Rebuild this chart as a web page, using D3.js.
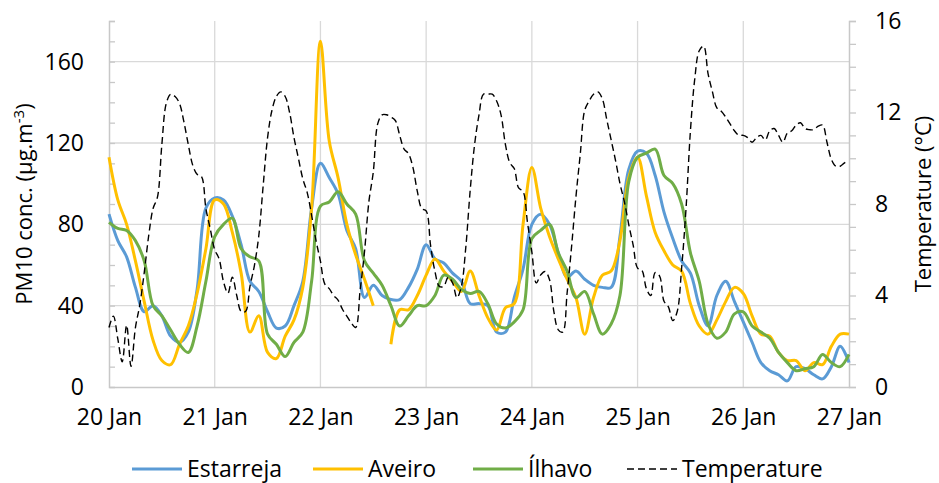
<!DOCTYPE html>
<html>
<head>
<meta charset="utf-8">
<script src="https://cdn.jsdelivr.net/npm/d3@7"></script>
<style>
  body { margin: 0; background: #fff; }
  svg text { font-family: "Open Sans", sans-serif; fill: #000; }
</style>
</head>
<body>
<div id="chart"></div>
<script>
// hours since 20 Jan 00:00
const pmHours = d3.range(0, 169, 2);
const tempHours = d3.range(0, 169, 1);
const dayLabels = ["20 Jan", "21 Jan", "22 Jan", "23 Jan", "24 Jan", "25 Jan", "26 Jan", "27 Jan"];
const pmTicks = [0, 40, 80, 120, 160];
const tempTicks = [0, 4, 8, 12, 16];

// PM10 (µg/m3), every 2 h
const estarreja = [
  85, 72, 64, 49, 37, 40, 35, 25, 22, 27, 48, 88, 93,
  92, 84, 70, 52, 47, 37, 29, 30, 40, 52, 88, 110,
  103, 95, 77, 68, 44, 50, 45, 43, 43, 49, 58, 70,
  63, 61, 56, 52, 41, 41, 40, 27, 27, 44, 58, 80,
  85, 80, 66, 54, 57, 53, 50, 49, 49, 74, 107, 116,
  115, 104, 86, 73, 62, 56, 40, 30, 45, 52, 42, 32,
  22, 12, 8, 6, 3, 10, 9, 6, 4, 10, 20, 12
];
const aveiro = [
  113, 92, 80, 62, 42, 23, 13, 11, 21, 30, 46, 68, 92,
  90, 76, 56, 27, 35, 17, 14, 25, 33, 49, 88, 170,
  121, 103, 80, 65, 53, 40, null, 21, 38, 38, 45, 55,
  63, 57, 52, 47, 57, 45, 34, 28, 39, 41, 80, 108,
  88, 74, 63, 53, 44, 26, 44, 55, 57, 72, 103, 113,
  94, 76, 67, 60, 57, 41, 30, 26, 33, 42, 49, 46,
  35, 26, 25, 17, 13, 13, 8, 12, 11, 20, 26, 26
];
const ilhavo = [
  81, 78, 77, 72, 62, 40, 35, 28, 21, 17, 30, 52, 74,
  80, 83, 68, 64, 62, 26, 21, 15, 22, 27, 52, 89,
  91, 96, 90, 85, 62, 56, 50, 40, 30, 35, 40, 40,
  45, 55, 53, 48, 46, 47, 41, 31, 29, 32, 38, 73,
  77, 80, 66, 57, 44, 47, 36, 26, 31, 45, 101, 113,
  115, 117, 104, 100, 90, 66, 52, 31, 24, 27, 36, 37,
  30, 27, 24, 17, 12, 8, 9, 10, 16, 12, 10, 16
];
// Temperature (°C), hourly
const temperature = [
  2.6, 3.1, 2.1, 1.1, 2.7, 0.9, 2.6, 3.6, 5.0, 6.6, 7.8, 8.3, 10.6, 12.4, 12.8, 12.7, 12.4, 11.6, 10.6, 9.7, 9.3, 9.2, 7.8, 6.9, 6.0,
  5.6, 4.6, 4.1, 4.8, 4.0, 3.3, 3.3, 4.4, 5.3, 6.6, 8.8, 10.9, 12.1, 12.7, 12.9, 12.7, 12.0, 10.9, 10.0, 9.1, 8.5, 7.5, 6.4, 5.5,
  4.5, 4.3, 4.0, 3.8, 3.4, 3.1, 2.8, 2.6, 4.2, 5.9, 8.1, 9.4, 11.5, 11.9, 11.9, 11.8, 11.65, 11.0, 10.4, 10.2, 9.6, 8.55, 7.8, 7.7,
  6.2, 5.05, 4.4, 4.4, 4.8, 4.55, 3.9, 4.4, 6.1, 8.6, 10.6, 11.9, 12.8, 12.8, 12.8, 12.5, 11.9, 10.6, 9.8, 9.55, 8.7, 8.55, 7.2, 5.9,
  4.55, 4.9, 5.05, 4.7, 3.3, 2.5, 2.4, 4.1, 6.1, 8.3, 10.2, 12.1, 12.5, 12.8, 12.9, 12.6, 11.7, 10.8, 9.9, 8.9, 8.1, 7.1, 6.2, 5.2,
  5.1, 4.3, 4.0, 5.0, 4.85, 3.75, 3.5, 2.9, 3.3, 5.2, 7.8, 11.2, 13.5, 14.7, 14.9, 13.7, 12.9, 12.2, 12.05, 11.8, 11.5, 11.2, 11.0, 11.0,
  10.9, 10.7, 10.9, 11.0, 10.8, 11.2, 11.3, 11.0, 10.7, 11.1, 11.2, 11.45, 11.55, 11.3, 11.25, 11.25, 11.4, 11.45, 10.7, 9.95, 9.65, 9.65, 9.8, 9.9
];

const margin = { top: 21, right: 90, bottom: 96, left: 109 },
    width = 939 - margin.left - margin.right,
    height = 483 - margin.top - margin.bottom;

const svg = d3.select("#chart")
    .append("svg")
    .attr("width", width + margin.left + margin.right)
    .attr("height", height + margin.top + margin.bottom);

const g = svg.append("g")
    .attr("transform", `translate(${margin.left},${margin.top})`);

const x = d3.scaleLinear().domain([0, 168]).range([0, width]);
const y = d3.scaleLinear().domain([0, 180]).range([height, 0]);
const y2 = d3.scaleLinear().domain([0, 16]).range([height, 0]);

const gridColor = "#d9d9d9";

// gridlines
g.append("g")
    .selectAll("line")
    .data(pmTicks.slice(1))
    .enter().append("line")
    .attr("x1", 0).attr("x2", width)
    .attr("y1", d => y(d)).attr("y2", d => y(d))
    .attr("stroke", gridColor).attr("stroke-width", 1.3);

g.append("g")
    .selectAll("line")
    .data(d3.range(24, 168, 24))
    .enter().append("line")
    .attr("x1", d => x(d)).attr("x2", d => x(d))
    .attr("y1", 0).attr("y2", height)
    .attr("stroke", gridColor).attr("stroke-width", 1.3);

// axes
const leftMinor = g.append("g")
    .call(d3.axisLeft(y).tickValues(d3.range(10, 181, 10)).tickSize(-6).tickFormat(""));
const rightMinor = g.append("g")
    .attr("transform", `translate(${width},0)`)
    .call(d3.axisRight(y2).tickValues(d3.range(0, 17, 1)).tickSize(7).tickFormat(""));
[leftMinor, rightMinor].forEach(a => {
    a.selectAll("line").attr("stroke", "#c8c8c8").attr("stroke-width", 1.3);
    a.select(".domain").attr("stroke", "#c8c8c8").attr("stroke-width", 1.5);
});

const leftAxis = g.append("g")
    .call(d3.axisLeft(y).tickValues(pmTicks).tickSize(0).tickPadding(25));
const rightAxis = g.append("g")
    .attr("transform", `translate(${width},0)`)
    .call(d3.axisRight(y2).tickValues(tempTicks).tickSize(0).tickPadding(26));
const bottomAxis = g.append("g")
    .attr("transform", `translate(0,${height})`)
    .call(d3.axisBottom(x).tickValues(d3.range(0, 169, 24)).tickSize(0).tickPadding(22)
        .tickFormat((d, i) => dayLabels[i]));
[leftAxis, rightAxis].forEach(a => a.select(".domain").remove());
bottomAxis.select(".domain").attr("stroke", "#c8c8c8").attr("stroke-width", 1.5);
[leftAxis, rightAxis, bottomAxis].forEach(a => {
    a.selectAll("text").attr("font-size", 23).attr("fill", "#000")
        .style("font-family", '"Open Sans", sans-serif');
});

// series
const pmLine = data => d3.line()
    .defined(d => d[1] !== null)
    .x(d => x(d[0]))
    .y(d => y(d[1]))
    .curve(d3.curveCatmullRom.alpha(0.5))(data);

const series = [
    { name: "Estarreja", values: estarreja, color: "#5b9bd5" },
    { name: "Aveiro", values: aveiro, color: "#ffc000" },
    { name: "Ílhavo", values: ilhavo, color: "#70ad47" }
];

g.append("g")
    .selectAll("path")
    .data(series)
    .enter().append("path")
    .attr("d", s => pmLine(pmHours.map((h, i) => [h, s.values[i]])))
    .attr("fill", "none")
    .attr("stroke", s => s.color)
    .attr("stroke-width", 3)
    .attr("stroke-linejoin", "round");

const tempLine = d3.line()
    .x(d => x(d[0]))
    .y(d => y2(d[1]))
    .curve(d3.curveCatmullRom.alpha(0.5));

g.append("path")
    .attr("d", tempLine(tempHours.map((h, i) => [h, temperature[i]])))
    .attr("fill", "none")
    .attr("stroke", "#000")
    .attr("stroke-width", 1.4)
    .attr("stroke-dasharray", "7,4");

// axis titles
svg.append("text")
    .attr("transform", `translate(32,${margin.top + height / 2}) rotate(-90)`)
    .attr("text-anchor", "middle")
    .attr("font-size", 22)
    .call(t => {
        t.append("tspan").text("PM10 conc. (μg.m");
        t.append("tspan").attr("dy", -8).attr("font-size", 15).text("-3");
        t.append("tspan").attr("dy", 8).text(")");
    });

svg.append("text")
    .attr("transform", `translate(931,${margin.top + height / 2}) rotate(-90)`)
    .attr("text-anchor", "middle")
    .attr("font-size", 22)
    .text("Temperature (°C)");

// legend
const legendItems = [
    { name: "Estarreja", color: "#5b9bd5", x: 132, dash: null },
    { name: "Aveiro", color: "#ffc000", x: 313, dash: null },
    { name: "Ílhavo", color: "#70ad47", x: 473, dash: null },
    { name: "Temperature", color: "#000", x: 627, dash: "7,4" }
];

const legend = svg.append("g").attr("transform", "translate(0,469)");
legendItems.forEach(d => {
    legend.append("line")
        .attr("x1", d.x).attr("x2", d.x + 50)
        .attr("y1", 0).attr("y2", 0)
        .attr("stroke", d.color)
        .attr("stroke-width", d.dash ? 1.4 : 3)
        .attr("stroke-dasharray", d.dash);
    legend.append("text")
        .attr("x", d.x + 55)
        .attr("dy", "0.35em")
        .attr("font-size", 23)
        .text(d.name);
});
</script>
</body>
</html>
